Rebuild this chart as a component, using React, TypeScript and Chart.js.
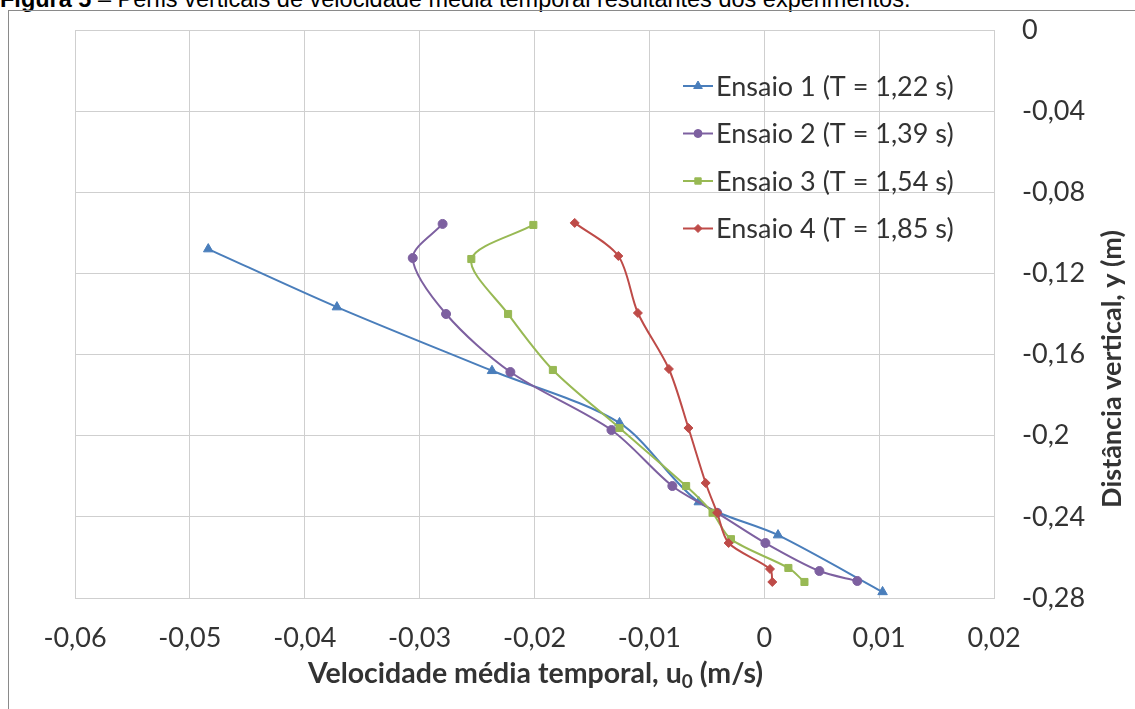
import React, { useEffect, useRef } from "react";
import { Chart, registerables } from "chart.js";
import { drawPoint } from "chart.js/helpers";

Chart.register(...registerables);

// ---- data ----
const xTicks = [-0.06, -0.05, -0.04, -0.03, -0.02, -0.01, 0, 0.01, 0.02];
const yTicks = [0, -0.04, -0.08, -0.12, -0.16, -0.2, -0.24, -0.28];

const seriesNames = [
  "Ensaio 1 (T = 1,22 s)",
  "Ensaio 2 (T = 1,39 s)",
  "Ensaio 3 (T = 1,54 s)",
  "Ensaio 4 (T = 1,85 s)",
];

const ensaio1U = [-0.0484, -0.0372, -0.0237, -0.0126, -0.0057, 0.0012, 0.0103];
const ensaio1Y = [-0.108, -0.1366, -0.168, -0.1937, -0.2327, -0.249, -0.277];

const ensaio2U = [-0.028, -0.0306, -0.0277, -0.0221, -0.0133, -0.008, -0.0041, 0.0001, 0.0048, 0.0081];
const ensaio2Y = [-0.0956, -0.1124, -0.14, -0.1686, -0.1972, -0.2248, -0.238, -0.2529, -0.2667, -0.2716];

const ensaio3U = [-0.0201, -0.0255, -0.0223, -0.0184, -0.0126, -0.0068, -0.0045, -0.0029, 0.0021, 0.0035];
const ensaio3Y = [-0.0961, -0.1129, -0.14, -0.1676, -0.1962, -0.2248, -0.238, -0.251, -0.2652, -0.2721];

const ensaio4U = [-0.0165, -0.0127, -0.011, -0.0083, -0.0066, -0.0051, -0.0041, -0.0031, 0.0005, 0.0007];
const ensaio4Y = [-0.0951, -0.1114, -0.1395, -0.1671, -0.1962, -0.2233, -0.238, -0.2529, -0.2657, -0.2721];

const seriesU = [ensaio1U, ensaio2U, ensaio3U, ensaio4U];
const seriesY = [ensaio1Y, ensaio2Y, ensaio3Y, ensaio4Y];

const colors = ["#4A7EBB", "#7D60A0", "#98B954", "#BE4B48"];
const pointStyles = ["triangle", "circle", "rect", "rectRot"];
const pointRadii = [5.5, 4.5, 5, 4.5];

const FONT = "Lato, 'Open Sans', sans-serif";
const TEXT = "#333333";
const GRID = "#cfcfcf";

const fmt = (v: number) => {
  const n = Number(v.toFixed(2));
  return (Object.is(n, -0) ? 0 : n).toString().replace(".", ",");
};

const overlayPlugin = {
  id: "overlay",
  afterDraw(chart: any) {
    const ctx = chart.ctx as CanvasRenderingContext2D;
    const area = chart.chartArea;
    ctx.save();
    // legend
    seriesNames.forEach((name, i) => {
      const y = 86 + i * 47.5;
      ctx.strokeStyle = colors[i];
      ctx.lineWidth = 2;
      ctx.beginPath();
      ctx.moveTo(683, y);
      ctx.lineTo(713, y);
      ctx.stroke();
      ctx.fillStyle = colors[i];
      ctx.strokeStyle = colors[i];
      ctx.lineWidth = 1;
      drawPoint(
        ctx,
        { pointStyle: pointStyles[i], radius: pointRadii[i] - 0.5, borderWidth: 1, rotation: 0 } as any,
        698,
        y
      );
      ctx.fillStyle = TEXT;
      ctx.font = `27px ${FONT}`;
      ctx.textAlign = "left";
      ctx.textBaseline = "middle";
      ctx.fillText(name, 716, y + 1);
    });

    // x axis title with subscript
    ctx.fillStyle = TEXT;
    ctx.textBaseline = "alphabetic";
    ctx.textAlign = "left";
    const part1 = "Velocidade média temporal, u";
    const sub = "0";
    const part2 = " (m/s)";
    ctx.font = `bold 28.5px ${FONT}`;
    const w1 = ctx.measureText(part1).width;
    const w3 = ctx.measureText(part2).width;
    ctx.font = `bold 19px ${FONT}`;
    const w2 = ctx.measureText(sub).width;
    const total = w1 + w2 + w3;
    const cx = (area.left + area.right) / 2 + 1;
    const baseY = 683;
    const x0 = cx - total / 2;
    ctx.font = `bold 28.5px ${FONT}`;
    ctx.fillText(part1, x0, baseY);
    ctx.font = `bold 19px ${FONT}`;
    ctx.fillText(sub, x0 + w1, baseY + 5);
    ctx.font = `bold 28.5px ${FONT}`;
    ctx.fillText(part2, x0 + w1 + w2, baseY);

    // y axis title rotated
    ctx.save();
    ctx.translate(1112, 369);
    ctx.rotate(-Math.PI / 2);
    ctx.textAlign = "center";
    ctx.textBaseline = "middle";
    ctx.font = `bold 27px ${FONT}`;
    ctx.fillText("Distância vertical, y (m)", 0, 0);
    ctx.restore();

    ctx.restore();
  },
};

export default function App() {
  const ref = useRef<HTMLCanvasElement | null>(null);

  useEffect(() => {
    if (!ref.current) return;
    const datasets = seriesNames.map((name, i) => ({
      label: name,
      data: seriesU[i].map((u, k) => ({ x: u, y: seriesY[i][k] })),
      showLine: true,
      borderColor: colors[i],
      backgroundColor: colors[i],
      borderWidth: 2,
      pointStyle: pointStyles[i],
      pointRadius: pointRadii[i],
      pointBorderWidth: 1,
      pointBorderColor: colors[i],
      pointBackgroundColor: colors[i],
      tension: 0.3,
      order: 4 - i,
    }));

    const chart = new Chart(ref.current, {
      type: "scatter",
      data: { datasets },
      options: {
        animation: false,
        responsive: false,
        maintainAspectRatio: false,
        layout: { padding: { left: 75, top: 30, right: 0, bottom: 0 } },
        plugins: {
          legend: { display: false },
          tooltip: { enabled: false },
          title: { display: false },
        },
        scales: {
          x: {
            type: "linear",
            position: "bottom",
            min: -0.06,
            max: 0.02,
            afterBuildTicks: (scale: any) => {
              scale.ticks = xTicks.map((v) => ({ value: v }));
            },
            afterFit: (scale: any) => {
              scale.height = 709 - 598;
              scale.paddingLeft = 0;
              scale.paddingRight = 0;
            },
            grid: { color: GRID, lineWidth: 1, drawTicks: false },
            border: { color: GRID },
            ticks: {
              padding: 24,
              color: TEXT,
              font: { family: FONT, size: 27 },
              maxRotation: 0,
              autoSkip: false,
              callback: (v: any) => fmt(Number(v)),
            },
          },
          y: {
            type: "linear",
            position: "right",
            min: -0.28,
            max: 0,
            afterBuildTicks: (scale: any) => {
              scale.ticks = yTicks.map((v) => ({ value: v }));
            },
            afterFit: (scale: any) => {
              scale.width = 1135 - 994;
              scale.paddingTop = 0;
              scale.paddingBottom = 0;
            },
            grid: { color: GRID, lineWidth: 1, drawTicks: false },
            border: { color: GRID },
            ticks: {
              padding: 28,
              color: TEXT,
              font: { family: FONT, size: 27 },
              autoSkip: false,
              callback: (v: any) => fmt(Number(v)),
            },
          },
        },
      },
      plugins: [overlayPlugin],
    });
    return () => chart.destroy();
  }, []);

  return (
    <div style={{ position: "fixed", left: 0, top: 0, width: 1135, height: 709, background: "#fff", overflow: "hidden" }}>
      <div
        style={{
          position: "absolute",
          left: 0,
          top: -12,
          whiteSpace: "nowrap",
          fontFamily: "'Liberation Sans', Arial, sans-serif",
          fontSize: 23.5,
          lineHeight: "23.5px",
          color: "#000",
        }}
      >
        <b>Figura 5</b> – Perfis verticais de velocidade média temporal resultantes dos experimentos.
      </div>
      <div
        style={{
          position: "absolute",
          left: 8,
          top: 10,
          width: 1200,
          height: 800,
          border: "1px solid #8a8a8a",
        }}
      />
      <canvas ref={ref} width={1135} height={709} style={{ position: "absolute", left: 0, top: 0 }} />
    </div>
  );
}
